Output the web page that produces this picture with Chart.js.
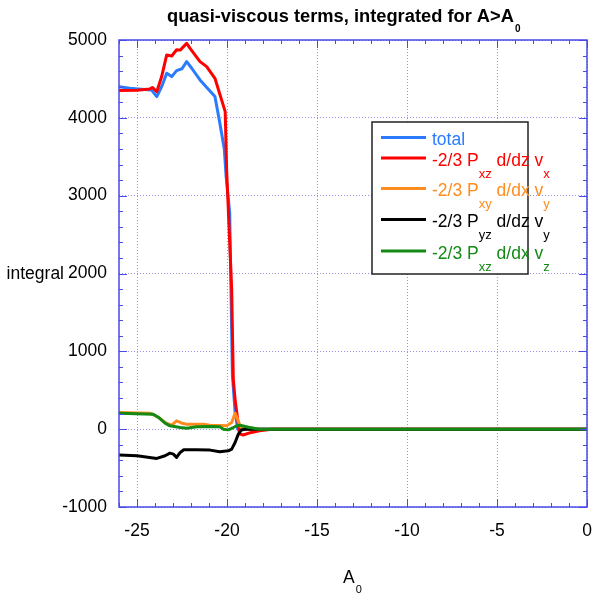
<!DOCTYPE html>
<html>
<head>
<meta charset="utf-8">
<script src="https://cdn.jsdelivr.net/npm/chart.js@4/dist/chart.umd.min.js"></script>
<style>html,body{margin:0;padding:0;background:#fff;}canvas{display:block;}</style>
</head>
<body>
<canvas id="c" width="592" height="597"></canvas>
<script>
// ---- data ----
const xTicks = [-25, -20, -15, -10, -5, 0];
const yTicks = [-1000, 0, 1000, 2000, 3000, 4000, 5000];

const totalX = [-26, -25.4, -24.6, -24.2, -23.9, -23.63, -23.35, -23.07, -22.8, -22.5, -22.24, -21.96, -21.5, -20.67, -20.4, -20.15, -20.05, -19.85, -19.78, -19.7, -19.55, -19.4, -19.2, 0];
const totalY = [4400, 4380, 4365, 4359, 4273, 4400, 4573, 4530, 4607, 4630, 4722, 4637, 4487, 4273, 3935, 3600, 3250, 2780, 1800, 700, 220, 0, 0, 0];

const pxzX = [-26, -25, -24.3, -24.15, -23.9, -23.63, -23.35, -23.07, -22.8, -22.6, -22.24, -22.05, -21.5, -21.13, -20.67, -20.1, -20.02, -19.74, -19.65, -19.55, -19.46, -19.3, -19.1, -18.7, -18.2, -17.5, 0];
const pxzY = [4350, 4355, 4370, 4390, 4337, 4530, 4808, 4795, 4875, 4870, 4957, 4893, 4722, 4658, 4508, 4080, 3333, 1795, 641, 380, 218, -60, -75, -45, -20, 0, 0];

const pxyX = [-26, -24.28, -23.8, -23.44, -23.07, -22.8, -22.5, -22.24, -21.3, -20.94, -20.3, -20.02, -19.74, -19.55, -19.41, -19.28, -19.1, -18.5, 0];
const pxyY = [214, 205, 150, 85, 51, 107, 77, 64, 64, 51, 47, 43, 85, 205, 128, 43, 0, 0, 0];

const pyzX = [-26, -25, -23.9, -23.44, -23.17, -22.98, -22.8, -22.6, -22.4, -21.7, -20.94, -20.4, -19.93, -19.74, -19.55, -19.37, -19.2, -19, 0];
const pyzY = [-333, -342, -376, -342, -308, -321, -363, -299, -265, -265, -269, -291, -278, -256, -171, -64, -10, 0, 0];

const pxz2X = [-26, -24.1, -23.8, -23.44, -23.17, -22.6, -22.24, -21.68, -20.94, -20.4, -20.2, -19.93, -19.65, -19.46, -19.28, -18.8, -18.2, 0];
const pxz2Y = [205, 192, 150, 77, 43, 21, 13, 30, 34, 30, 0, -9, 21, 43, 51, 25, 0, 0];

const legendRows = [
  [{t: 'total'}],
  [{t: '-2/3 P'}, {t: 'xz', sub: true}, {t: ' d/dz v'}, {t: 'x', sub: true}],
  [{t: '-2/3 P'}, {t: 'xy', sub: true}, {t: ' d/dx v'}, {t: 'y', sub: true}],
  [{t: '-2/3 P'}, {t: 'yz', sub: true}, {t: ' d/dz v'}, {t: 'y', sub: true}],
  [{t: '-2/3 P'}, {t: 'xz', sub: true}, {t: ' d/dx v'}, {t: 'z', sub: true}]
];
const colors = ['#2b7bff', '#ff0000', '#ff8c1e', '#000000', '#138a13'];

function pts(xs, ys) { return xs.map((x, i) => ({x: x, y: ys[i]})); }

const FONT = '"Liberation Sans", Arial, sans-serif';
const gridColor = 'rgba(110,110,225,0.75)';
const frameColor = '#4a4ae6';

function drawRich(ctx, x, y, segs, color, size, subSize, subDrop) {
  ctx.fillStyle = color;
  ctx.textBaseline = 'alphabetic';
  ctx.textAlign = 'left';
  for (const s of segs) {
    ctx.font = (s.sub ? subSize : size) + 'px ' + FONT;
    ctx.fillText(s.t, x, s.sub ? y + subDrop : y);
    x += ctx.measureText(s.t).width;
  }
}

const decor = {
  id: 'decor',
  afterDraw(chart) {
    const ctx = chart.ctx;
    const a = chart.chartArea;
    const xs = chart.scales.x, ys = chart.scales.y;
    ctx.save();
    // minor / major ticks inward
    ctx.strokeStyle = frameColor;
    ctx.lineWidth = 1;
    ctx.beginPath();
    for (let v = -26; v <= 0; v += 1) {
      const p = Math.round(xs.getPixelForValue(v)) + 0.5;
      const L = (v % 5 === 0) ? 8 : 4;
      ctx.moveTo(p, a.bottom); ctx.lineTo(p, a.bottom - L);
      ctx.moveTo(p, a.top); ctx.lineTo(p, a.top + L);
    }
    for (let v = -1000; v <= 5000; v += 200) {
      const p = Math.round(ys.getPixelForValue(v)) + 0.5;
      const L = (v % 1000 === 0) ? 8 : 4;
      ctx.moveTo(a.left, p); ctx.lineTo(a.left + L, p);
      ctx.moveTo(a.right, p); ctx.lineTo(a.right - L, p);
    }
    ctx.stroke();
    // frame
    ctx.lineWidth = 1.5;
    ctx.strokeRect(a.left, a.top, a.right - a.left, a.bottom - a.top);

    // legend box
    const bx = 372, by = 122, bw = 156, bh = 152;
    ctx.fillStyle = '#fff';
    ctx.fillRect(bx, by, bw, bh);
    ctx.strokeStyle = '#222';
    ctx.lineWidth = 1.5;
    ctx.strokeRect(bx, by, bw, bh);
    const rowY = [137.5, 158, 188.5, 219.5, 251];
    legendRows.forEach((segs, i) => {
      ctx.strokeStyle = colors[i];
      ctx.lineWidth = 3;
      ctx.beginPath();
      ctx.moveTo(381, rowY[i]); ctx.lineTo(426, rowY[i]);
      ctx.stroke();
      drawRich(ctx, 432, rowY[i] + 7.5, segs, colors[i], 17.5, 13, 12);
    });

    // title
    ctx.fillStyle = '#000';
    ctx.font = 'bold 18.3px ' + FONT;
    ctx.textAlign = 'left';
    ctx.textBaseline = 'alphabetic';
    const t = 'quasi-viscous terms, integrated for A>A';
    ctx.fillText(t, 167, 22);
    const tw = ctx.measureText(t).width;
    ctx.font = 'bold 10px ' + FONT;
    ctx.fillText('0', 167 + tw + 1, 32);

    // axis titles
    ctx.font = '17.5px ' + FONT;
    ctx.textAlign = 'right';
    ctx.fillText('integral', 64, 279);
    ctx.textAlign = 'left';
    ctx.fillText('A', 343, 583);
    const aw = ctx.measureText('A').width;
    ctx.font = '11px ' + FONT;
    ctx.fillText('0', 343 + aw + 1, 593);
    ctx.restore();
  }
};

const ds = [
  {label: 'total', data: pts(totalX, totalY), borderColor: colors[0], order: 5},
  {label: 'Pxz dz vx', data: pts(pxzX, pxzY), borderColor: colors[1], order: 4},
  {label: 'Pxy dx vy', data: pts(pxyX, pxyY), borderColor: colors[2], order: 3},
  {label: 'Pyz dz vy', data: pts(pyzX, pyzY), borderColor: colors[3], order: 2},
  {label: 'Pxz dx vz', data: pts(pxz2X, pxz2Y), borderColor: colors[4], order: 1}
].map(d => Object.assign(d, {borderWidth: 3, pointRadius: 0, tension: 0, fill: false, borderJoinStyle: 'round', borderCapStyle: 'round'}));

new Chart(document.getElementById('c'), {
  type: 'line',
  data: {datasets: ds},
  options: {
    responsive: false,
    animation: false,
    events: [],
    layout: {padding: {top: 40, right: 5, left: 0, bottom: 0}},
    plugins: {legend: {display: false}, title: {display: false}, tooltip: {enabled: false}},
    scales: {
      x: {
        type: 'linear', min: -26, max: 0,
        afterBuildTicks: s => { s.ticks = xTicks.map(v => ({value: v})); },
        afterFit: s => { s.height = 90; s.paddingLeft = 0; s.paddingRight = 0; },
        ticks: {color: '#000', font: {family: FONT, size: 17.5}, padding: 14, maxRotation: 0, autoSkip: false, callback: v => String(v)},
        grid: {color: gridColor, lineWidth: 1, drawTicks: false},
        border: {display: false, dash: [1, 2]}
      },
      y: {
        type: 'linear', min: -1000, max: 5000,
        afterBuildTicks: s => { s.ticks = yTicks.map(v => ({value: v})); },
        afterFit: s => { s.width = 119; s.paddingTop = 0; s.paddingBottom = 0; },
        ticks: {color: '#000', font: {family: FONT, size: 17.5}, padding: 12, autoSkip: false, callback: v => String(v)},
        grid: {color: gridColor, lineWidth: 1, drawTicks: false},
        border: {display: false, dash: [1, 2]}
      }
    }
  },
  plugins: [decor]
});
</script>
</body>
</html>
